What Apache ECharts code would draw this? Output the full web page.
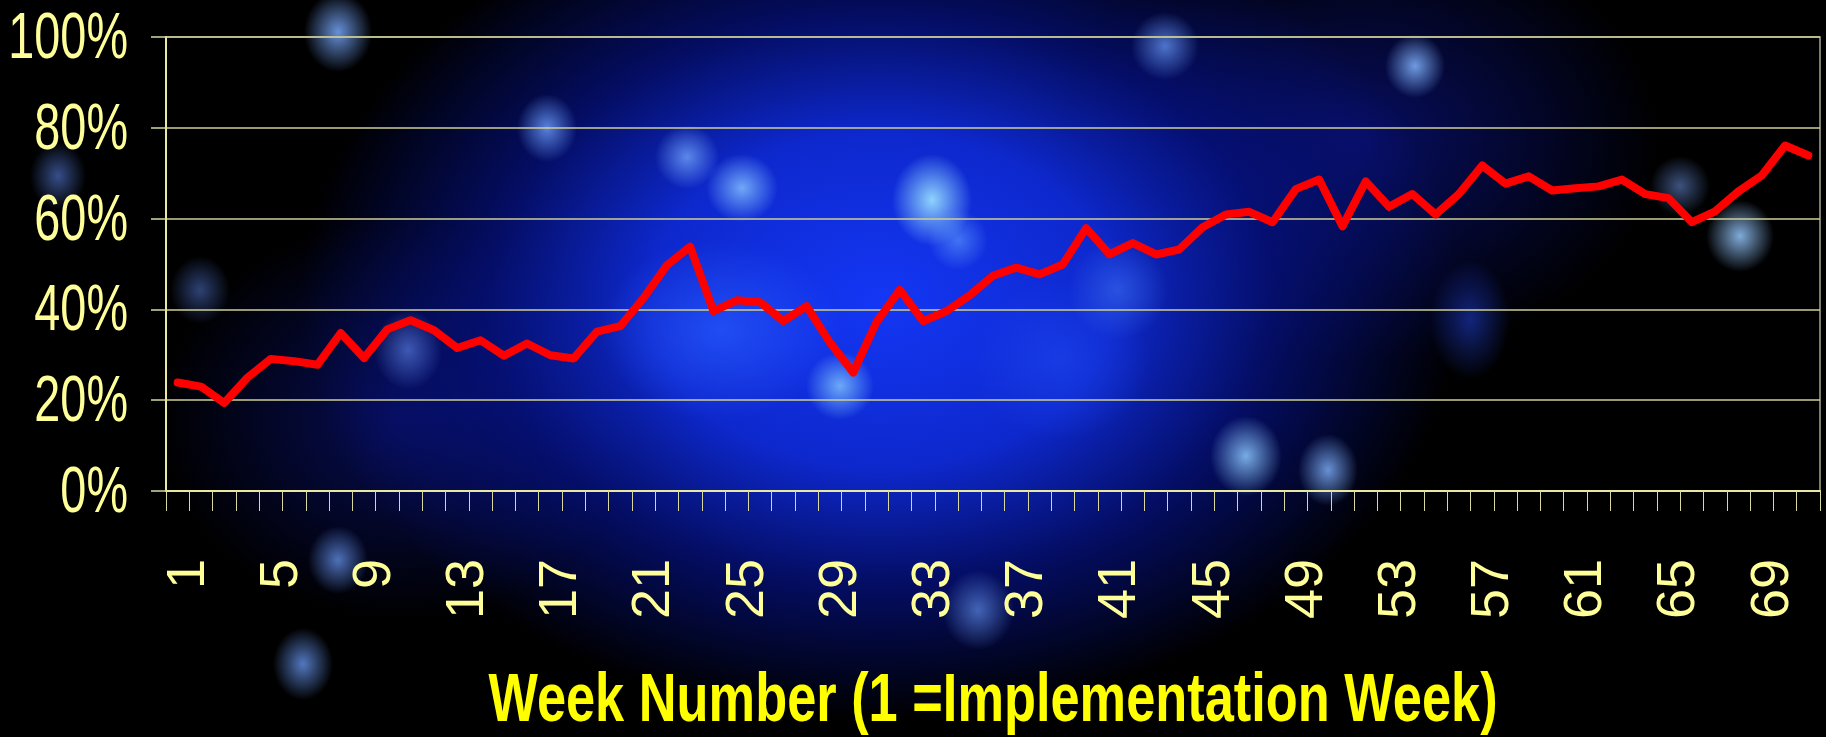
<!DOCTYPE html>
<html>
<head>
<meta charset="utf-8">
<script src="https://cdn.jsdelivr.net/npm/echarts@6/dist/echarts.min.js"></script>
<style>
  html, body { margin: 0; padding: 0; }
  body {
    width: 1826px; height: 737px; overflow: hidden;
    background-color: #000;
    background-image:
      radial-gradient(ellipse 34px 40px at 338px 32px, rgba(120,170,255,0.85), rgba(0,0,0,0)),
      radial-gradient(ellipse 30px 34px at 547px 128px, rgba(110,160,255,0.8), rgba(0,0,0,0)),
      radial-gradient(ellipse 32px 32px at 687px 157px, rgba(120,170,255,0.75), rgba(0,0,0,0)),
      radial-gradient(ellipse 36px 34px at 742px 188px, rgba(130,190,255,0.85), rgba(0,0,0,0)),
      radial-gradient(ellipse 40px 46px at 932px 200px, rgba(150,220,255,0.95), rgba(0,0,0,0)),
      radial-gradient(ellipse 30px 30px at 958px 240px, rgba(100,160,255,0.6), rgba(0,0,0,0)),
      radial-gradient(ellipse 34px 34px at 1165px 46px, rgba(110,160,255,0.7), rgba(0,0,0,0)),
      radial-gradient(ellipse 30px 32px at 1415px 66px, rgba(130,180,255,0.85), rgba(0,0,0,0)),
      radial-gradient(ellipse 36px 40px at 1246px 456px, rgba(140,200,255,0.85), rgba(0,0,0,0)),
      radial-gradient(ellipse 30px 36px at 1328px 470px, rgba(130,180,255,0.8), rgba(0,0,0,0)),
      radial-gradient(ellipse 34px 36px at 1740px 236px, rgba(150,200,255,0.85), rgba(0,0,0,0)),
      radial-gradient(ellipse 30px 30px at 1680px 186px, rgba(110,150,230,0.55), rgba(0,0,0,0)),
      radial-gradient(ellipse 34px 34px at 840px 386px, rgba(130,200,255,0.8), rgba(0,0,0,0)),
      radial-gradient(ellipse 28px 34px at 58px 176px, rgba(90,130,230,0.6), rgba(0,0,0,0)),
      radial-gradient(ellipse 30px 34px at 200px 290px, rgba(90,130,230,0.5), rgba(0,0,0,0)),
      radial-gradient(ellipse 34px 40px at 408px 350px, rgba(100,140,240,0.6), rgba(0,0,0,0)),
      radial-gradient(ellipse 30px 36px at 303px 664px, rgba(110,160,255,0.75), rgba(0,0,0,0)),
      radial-gradient(ellipse 30px 34px at 338px 560px, rgba(110,160,255,0.7), rgba(0,0,0,0)),
      radial-gradient(ellipse 36px 40px at 978px 610px, rgba(110,160,255,0.6), rgba(0,0,0,0)),
      radial-gradient(ellipse 50px 50px at 1118px 290px, rgba(60,110,240,0.6), rgba(0,0,0,0)),
      radial-gradient(ellipse 40px 60px at 1470px 320px, rgba(30,60,200,0.6), rgba(0,0,0,0)),
      radial-gradient(ellipse 120px 90px at 720px 330px, rgba(40,90,255,0.7), rgba(0,0,0,0)),
      radial-gradient(ellipse 90px 80px at 1060px 360px, rgba(30,70,240,0.6), rgba(0,0,0,0)),
      radial-gradient(ellipse 580px 420px at 880px 300px, rgba(20,55,245,1), rgba(14,42,215,0.95) 40%, rgba(6,20,150,0.65) 68%, rgba(0,0,0,0)),
      radial-gradient(ellipse 300px 220px at 1360px 140px, rgba(10,20,140,0.7), rgba(0,0,0,0)),
      radial-gradient(ellipse 240px 200px at 400px 420px, rgba(10,20,130,0.65), rgba(0,0,0,0));
  }
  #chart { width: 1826px; height: 737px; }
</style>
</head>
<body>
<div id="chart"></div>
<script>
// weeks since implementation (1 = implementation week)
const weeks = Array.from({ length: 71 }, (_, i) => String(i + 1));

// percentage per week
const rate = [
  23.9, 23.0, 19.4, 25.0, 29.1, 28.6, 27.8, 34.8, 29.3, 35.6,
  37.6, 35.4, 31.5, 33.2, 29.8, 32.5, 29.9, 29.2, 35.1, 36.3,
  42.5, 49.7, 53.8, 39.6, 42.0, 41.6, 37.4, 40.7, 32.7, 26.1,
  37.2, 44.3, 37.4, 39.6, 43.1, 47.4, 49.2, 47.7, 49.9, 57.9,
  52.1, 54.6, 52.1, 53.2, 58.1, 60.9, 61.5, 59.2, 66.5, 68.6,
  58.3, 68.2, 62.6, 65.4, 60.9, 65.4, 71.7, 67.7, 69.3, 66.2,
  66.7, 67.1, 68.6, 65.4, 64.5, 59.2, 61.6, 66.0, 69.5, 76.1,
  73.9
];

const yTicks = [0, 20, 40, 60, 80, 100];
const xTitle = "Week Number (1 =Implementation Week)";

const sans = "'Liberation Sans', Arial, sans-serif";
const paleYellow = "#ffff99";
const gridLine = "#cfcf96";

const chart = echarts.init(document.getElementById("chart"));
chart.setOption({
  backgroundColor: "transparent",
  animation: false,
  grid: {
    left: 166, right: 6, top: 37, bottom: 246,
    containLabel: false,
    outerBoundsMode: "none",
    show: true, borderColor: "#a8a88a", borderWidth: 1.5,
    backgroundColor: "transparent",
  },
  xAxis: {
    type: "category",
    data: weeks,
    boundaryGap: true,
    axisLine: { lineStyle: { color: "#e8e8a0", width: 2 } },
    axisTick: { show: true, interval: 0, length: 20, lineStyle: { color: "#d8d8a0", width: 1 } },
    axisLabel: {
      interval: 3,
      rotate: 90,
      margin: 68,
      color: paleYellow,
      fontSize: 54,
      fontFamily: sans,
      // empty spacer line nudges the rotated numbers a little to the right, as on the slide
      formatter: (v) => "{gap|}\n{n|" + v + "}",
      rich: {
        gap: { lineHeight: 22, fontSize: 1 },
        n: { lineHeight: 56, fontSize: 54, color: paleYellow, fontFamily: sans },
      },
    },
    splitLine: { show: false },
  },
  yAxis: {
    type: "value",
    min: yTicks[0],
    max: yTicks[yTicks.length - 1],
    interval: 20,
    axisLine: { show: true, lineStyle: { color: "#e8e8a0", width: 2 } },
    axisTick: { show: true, length: 15, lineStyle: { color: "#d8d8a0", width: 1.5 } },
    axisLabel: { show: false },
    splitLine: { lineStyle: { color: gridLine, width: 1.5 } },
  },
  series: [
    {
      type: "line",
      data: rate,
      symbol: "none",
      smooth: false,
      lineStyle: { color: "#ff0000", width: 8, cap: "round", join: "round" },
    },
  ],
});

// the slide used condensed type; draw the y labels and axis title squeezed horizontally
const yLabels = yTicks.map((v) => ({
  type: "text",
  x: 128,
  y: chart.convertToPixel({ yAxisIndex: 0 }, v) + 3,
  scaleX: 0.72,
  style: {
    text: v + "%",
    align: "right",
    verticalAlign: "middle",
    fill: paleYellow,
    font: "65px " + sans,
  },
}));

chart.setOption({
  graphic: [
    ...yLabels,
    {
      type: "text",
      x: 993,
      y: 702,
      scaleX: 0.77,
      style: {
        text: xTitle,
        align: "center",
        verticalAlign: "middle",
        fill: "#ffff00",
        font: "bold 68px " + sans,
      },
    },
  ],
});
</script>
</body>
</html>
